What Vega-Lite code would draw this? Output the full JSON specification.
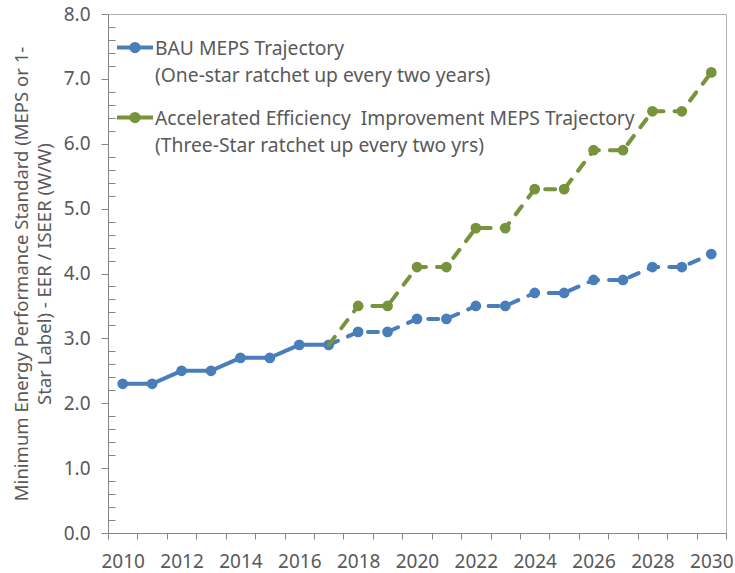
{
  "$schema": "https://vega.github.io/schema/vega-lite/v6.json",
  "width": 618,
  "height": 519,
  "autosize": {"type": "none"},
  "padding": {"left": 108, "top": 14, "right": 9, "bottom": 40},
  "background": "white",
  "config": {
    "font": "Noto Sans",
    "view": {"stroke": "#B0B0B0", "strokeWidth": 1},
    "style": {"guide-label": {"lineHeight": 27}},
    "axis": {"labelColor": "#595959", "titleColor": "#595959", "domainColor": "#868686", "tickColor": "#868686", "grid": false, "labelFont": "Noto Sans", "titleFont": "Noto Sans"},
    "legend": {"labelColor": "#595959", "labelFont": "Noto Sans"}
  },
  "data": {
    "values": [
      {"series": "BAU MEPS Trajectory", "year": 2010, "value": 2.3},
      {"series": "BAU MEPS Trajectory", "year": 2011, "value": 2.3},
      {"series": "BAU MEPS Trajectory", "year": 2012, "value": 2.5},
      {"series": "BAU MEPS Trajectory", "year": 2013, "value": 2.5},
      {"series": "BAU MEPS Trajectory", "year": 2014, "value": 2.7},
      {"series": "BAU MEPS Trajectory", "year": 2015, "value": 2.7},
      {"series": "BAU MEPS Trajectory", "year": 2016, "value": 2.9},
      {"series": "BAU MEPS Trajectory", "year": 2017, "value": 2.9},
      {"series": "BAU MEPS Trajectory", "year": 2018, "value": 3.1},
      {"series": "BAU MEPS Trajectory", "year": 2019, "value": 3.1},
      {"series": "BAU MEPS Trajectory", "year": 2020, "value": 3.3},
      {"series": "BAU MEPS Trajectory", "year": 2021, "value": 3.3},
      {"series": "BAU MEPS Trajectory", "year": 2022, "value": 3.5},
      {"series": "BAU MEPS Trajectory", "year": 2023, "value": 3.5},
      {"series": "BAU MEPS Trajectory", "year": 2024, "value": 3.7},
      {"series": "BAU MEPS Trajectory", "year": 2025, "value": 3.7},
      {"series": "BAU MEPS Trajectory", "year": 2026, "value": 3.9},
      {"series": "BAU MEPS Trajectory", "year": 2027, "value": 3.9},
      {"series": "BAU MEPS Trajectory", "year": 2028, "value": 4.1},
      {"series": "BAU MEPS Trajectory", "year": 2029, "value": 4.1},
      {"series": "BAU MEPS Trajectory", "year": 2030, "value": 4.3},
      {"series": "Accelerated Efficiency  Improvement MEPS Trajectory", "year": 2017, "value": 2.9},
      {"series": "Accelerated Efficiency  Improvement MEPS Trajectory", "year": 2018, "value": 3.5},
      {"series": "Accelerated Efficiency  Improvement MEPS Trajectory", "year": 2019, "value": 3.5},
      {"series": "Accelerated Efficiency  Improvement MEPS Trajectory", "year": 2020, "value": 4.1},
      {"series": "Accelerated Efficiency  Improvement MEPS Trajectory", "year": 2021, "value": 4.1},
      {"series": "Accelerated Efficiency  Improvement MEPS Trajectory", "year": 2022, "value": 4.7},
      {"series": "Accelerated Efficiency  Improvement MEPS Trajectory", "year": 2023, "value": 4.7},
      {"series": "Accelerated Efficiency  Improvement MEPS Trajectory", "year": 2024, "value": 5.3},
      {"series": "Accelerated Efficiency  Improvement MEPS Trajectory", "year": 2025, "value": 5.3},
      {"series": "Accelerated Efficiency  Improvement MEPS Trajectory", "year": 2026, "value": 5.9},
      {"series": "Accelerated Efficiency  Improvement MEPS Trajectory", "year": 2027, "value": 5.9},
      {"series": "Accelerated Efficiency  Improvement MEPS Trajectory", "year": 2028, "value": 6.5},
      {"series": "Accelerated Efficiency  Improvement MEPS Trajectory", "year": 2029, "value": 6.5},
      {"series": "Accelerated Efficiency  Improvement MEPS Trajectory", "year": 2030, "value": 7.1}
    ]
  },
  "encoding": {
    "x": {
      "field": "year", "type": "quantitative",
      "scale": {"domain": [2009.5, 2030.5], "nice": false, "zero": false},
      "axis": {
        "title": null,
        "values": [2009.5, 2010.5, 2011.5, 2012.5, 2013.5, 2014.5, 2015.5, 2016.5, 2017.5, 2018.5, 2019.5, 2020.5, 2021.5, 2022.5, 2023.5, 2024.5, 2025.5, 2026.5, 2027.5, 2028.5, 2029.5, 2030.5],
        "labelExpr": "(datum.value + 0.5) % 2 == 0 ? '' + (datum.value + 0.5) : ''",
        "labelOffset": 14.7,
        "labelOverlap": false,
        "labelFlush": false,
        "labelFontSize": 19,
        "labelPadding": 13,
        "tickSize": 6
      }
    },
    "y": {
      "field": "value", "type": "quantitative",
      "scale": {"domain": [0, 8], "nice": false},
      "axis": {
        "title": ["Minimum Energy Performance Standard (MEPS or 1-", "Star Label) - EER / ISEER (W/W)"],
        "titleFontSize": 18.5,
        "titleFontWeight": "normal",
        "titleLineHeight": 23,
        "titlePadding": 9,
        "values": [0, 0.2, 0.4, 0.6, 0.8, 1, 1.2, 1.4, 1.6, 1.8, 2, 2.2, 2.4, 2.6, 2.8, 3, 3.2, 3.4, 3.6, 3.8, 4, 4.2, 4.4, 4.6, 4.8, 5, 5.2, 5.4, 5.6, 5.8, 6, 6.2, 6.4, 6.6, 6.8, 7, 7.2, 7.4, 7.6, 7.8, 8],
        "labelExpr": "abs(datum.value - round(datum.value)) < 0.01 ? format(datum.value, '.1f') : ''",
        "labelOverlap": false,
        "labelFontSize": 19,
        "labelPadding": 11,
        "tickSize": {"condition": {"test": "abs(datum.value - round(datum.value)) < 0.01", "value": 7}, "value": -7}
      }
    },
    "color": {
      "field": "series", "type": "nominal",
      "scale": {"domain": ["BAU MEPS Trajectory", "Accelerated Efficiency  Improvement MEPS Trajectory"], "range": ["#4A7EBB", "#77933C"]},
      "legend": {
        "title": null,
        "orient": "none",
        "legendX": 7,
        "legendY": 15,
        "padding": 0,
        "offset": 0,
        "symbolType": "M-1,-0.08H1M0.2,-0.08A0.2,0.2 0 1 1 -0.2,-0.08A0.2,0.2 0 1 1 0.2,-0.08Z",
        "symbolSize": 1296,
        "symbolOpacity": 1,
        "symbolStrokeWidth": 4,
        "symbolDash": [],
        "labelFontSize": 19.3,
        "labelOffset": 0,
        "labelLimit": 600,
        "labelBaseline": "middle",
        "rowPadding": 12,
        "labelExpr": "datum.label == 'BAU MEPS Trajectory' ? ['BAU MEPS Trajectory', '(One-star ratchet up every two years)'] : ['Accelerated Efficiency\u00a0 Improvement MEPS Trajectory', '(Three-Star ratchet up every two yrs)']"
      }
    }
  },
  "layer": [
    {
      "transform": [{"filter": "datum.series == 'BAU MEPS Trajectory' && datum.year <= 2017"}],
      "mark": {"type": "line", "strokeWidth": 4, "strokeCap": "round"}
    },
    {
      "transform": [{"filter": "datum.series == 'BAU MEPS Trajectory' && datum.year >= 2017"}],
      "mark": {"type": "line", "strokeWidth": 4, "strokeCap": "round", "strokeDash": [10, 11]}
    },
    {
      "transform": [{"filter": "datum.series == 'BAU MEPS Trajectory'"}],
      "mark": {"type": "circle", "size": 115, "opacity": 1}
    },
    {
      "transform": [{"filter": "datum.series != 'BAU MEPS Trajectory'"}],
      "mark": {"type": "line", "strokeWidth": 4, "strokeCap": "round", "strokeDash": [10, 11]}
    },
    {
      "transform": [{"filter": "datum.series != 'BAU MEPS Trajectory' && datum.year >= 2018"}],
      "mark": {"type": "circle", "size": 115, "opacity": 1}
    }
  ]
}
